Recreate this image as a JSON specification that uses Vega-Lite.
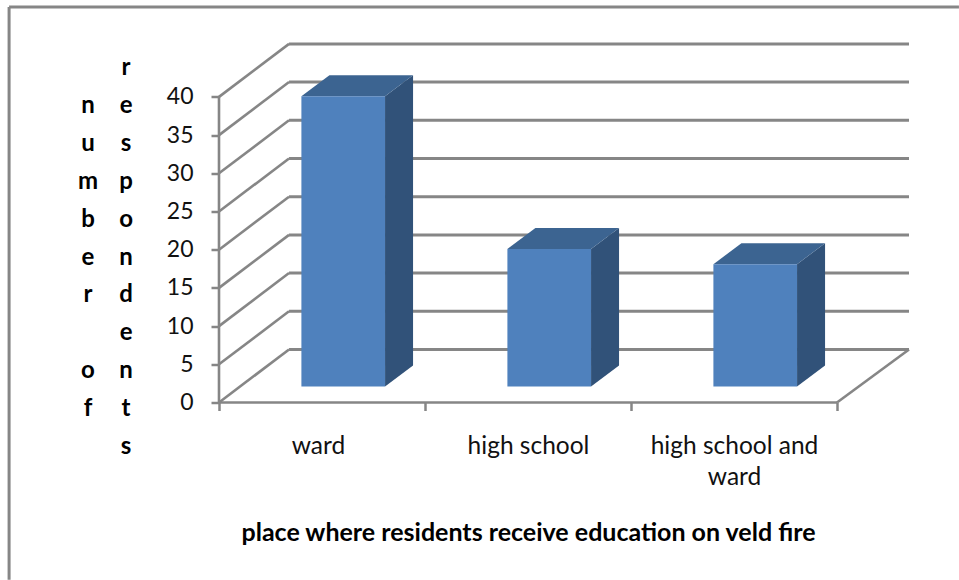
{
  "$schema": "https://vega.github.io/schema/vega-lite/v6.json",
  "width": 690,
  "height": 359,
  "autosize": {"type": "none"},
  "padding": {"left": 219, "top": 43.5, "right": 50, "bottom": 177.5},
  "background": "#ffffff",
  "config": {"view": {"stroke": null}, "font": "Lato"},
  "datasets": {
    "frame": [
      {"x": -1.019, "x2": 3.592, "y": 51.77, "y2": 51.77},
      {"x": -1.019, "x2": -1.019, "y": 51.77, "y2": -23.2}
    ],
    "walls": [
      {"x": 0.34, "x2": 3.3495, "y": 6.94, "y2": 6.94},
      {"x": 0.34, "x2": 3.3495, "y": 11.94, "y2": 11.94},
      {"x": 0.34, "x2": 3.3495, "y": 16.94, "y2": 16.94},
      {"x": 0.34, "x2": 3.3495, "y": 21.94, "y2": 21.94},
      {"x": 0.34, "x2": 3.3495, "y": 26.94, "y2": 26.94},
      {"x": 0.34, "x2": 3.3495, "y": 31.94, "y2": 31.94},
      {"x": 0.34, "x2": 3.3495, "y": 36.94, "y2": 36.94},
      {"x": 0.34, "x2": 3.3495, "y": 41.94, "y2": 41.94},
      {"x": 0.34, "x2": 3.3495, "y": 46.94, "y2": 46.94}
    ],
    "diagonals": [
      {"x": 0, "x2": 0.34, "y": 0, "y2": 6.94},
      {"x": 0, "x2": 0.34, "y": 5, "y2": 11.94},
      {"x": 0, "x2": 0.34, "y": 10, "y2": 16.94},
      {"x": 0, "x2": 0.34, "y": 15, "y2": 21.94},
      {"x": 0, "x2": 0.34, "y": 20, "y2": 26.94},
      {"x": 0, "x2": 0.34, "y": 25, "y2": 31.94},
      {"x": 0, "x2": 0.34, "y": 30, "y2": 36.94},
      {"x": 0, "x2": 0.34, "y": 35, "y2": 41.94},
      {"x": 0, "x2": 0.34, "y": 40, "y2": 46.94},
      {"x": 3, "x2": 3.3495, "y": 0, "y2": 6.94},
      {"x": 0, "x2": 0, "y": 0, "y2": 40},
      {"x": 0, "x2": 3, "y": 0, "y2": 0}
    ],
    "front": [
      {"place": "ward", "value": 38, "x": 0.40, "x2": 0.806, "low": 2.1, "high": 40.1},
      {"place": "high school", "value": 18, "x": 1.40, "x2": 1.806, "low": 2.1, "high": 20.1},
      {"place": "high school and ward", "value": 16, "x": 2.40, "x2": 2.806, "low": 2.1, "high": 18.1}
    ],
    "side": [
      {"place": "ward", "x": 0.806, "low": 2.1, "high": 40.1},
      {"place": "ward", "x": 0.942, "low": 4.85, "high": 42.85},
      {"place": "high school", "x": 1.806, "low": 2.1, "high": 20.1},
      {"place": "high school", "x": 1.942, "low": 4.85, "high": 22.85},
      {"place": "high school and ward", "x": 2.806, "low": 2.1, "high": 18.1},
      {"place": "high school and ward", "x": 2.942, "low": 4.85, "high": 20.85}
    ],
    "top": [
      {"place": "ward", "x": 0.40, "low": 40.1, "high": 40.1},
      {"place": "ward", "x": 0.536, "low": 40.1, "high": 42.85},
      {"place": "ward", "x": 0.806, "low": 40.1, "high": 42.85},
      {"place": "ward", "x": 0.942, "low": 42.85, "high": 42.85},
      {"place": "high school", "x": 1.40, "low": 20.1, "high": 20.1},
      {"place": "high school", "x": 1.536, "low": 20.1, "high": 22.85},
      {"place": "high school", "x": 1.806, "low": 20.1, "high": 22.85},
      {"place": "high school", "x": 1.942, "low": 22.85, "high": 22.85},
      {"place": "high school and ward", "x": 2.40, "low": 18.1, "high": 18.1},
      {"place": "high school and ward", "x": 2.536, "low": 18.1, "high": 20.85},
      {"place": "high school and ward", "x": 2.806, "low": 18.1, "high": 20.85},
      {"place": "high school and ward", "x": 2.942, "low": 20.85, "high": 20.85}
    ],
    "letters": [
      {"t": "n", "x": -0.636, "y": 37.91},
      {"t": "u", "x": -0.636, "y": 32.95},
      {"t": "m", "x": -0.636, "y": 27.98},
      {"t": "b", "x": -0.636, "y": 23.02},
      {"t": "e", "x": -0.636, "y": 18.06},
      {"t": "r", "x": -0.636, "y": 13.10},
      {"t": "o", "x": -0.636, "y": 3.18},
      {"t": "f", "x": -0.636, "y": -1.78},
      {"t": "r", "x": -0.451, "y": 42.87},
      {"t": "e", "x": -0.451, "y": 37.91},
      {"t": "s", "x": -0.451, "y": 32.95},
      {"t": "p", "x": -0.451, "y": 27.98},
      {"t": "o", "x": -0.451, "y": 23.02},
      {"t": "n", "x": -0.451, "y": 18.06},
      {"t": "d", "x": -0.451, "y": 13.10},
      {"t": "e", "x": -0.451, "y": 8.14},
      {"t": "n", "x": -0.451, "y": 3.18},
      {"t": "t", "x": -0.451, "y": -1.78},
      {"t": "s", "x": -0.451, "y": -6.75}
    ]
  },
  "layer": [
    {
      "data": {"name": "frame"},
      "mark": {"type": "rule", "stroke": "#868686", "strokeWidth": 3},
      "encoding": {
        "x": {
          "field": "x",
          "type": "quantitative",
          "scale": {"domain": [0, 3.3495], "nice": false, "zero": false},
          "axis": {
            "values": [0, 0.48, 1, 1.5, 2, 2.5, 3],
            "grid": false,
            "domain": false,
            "tickColor": "#868686",
            "tickWidth": 2.5,
            "tickSize": 8,
            "tickOpacity": {"condition": {"test": "datum.value % 1 !== 0", "value": 0}, "value": 1},
            "labelExpr": "datum.value === 0.48 ? 'ward' : datum.value === 1.5 ? 'high school' : datum.value === 2.5 ? ['high school and', 'ward'] : ''",
            "labelFont": "Lato",
            "labelFontSize": 24.5,
            "labelColor": "#111111",
            "labelPadding": 24,
            "labelLineHeight": 31,
            "labelOverlap": false,
            "labelBound": false,
            "labelFlush": false,
            "title": "place where residents receive education on veld fire",
            "titleFont": "Lato",
            "titleFontSize": 25,
            "titleFontWeight": "bold",
            "titleColor": "#000000",
            "titleX": 309,
            "titleY": 118
          }
        },
        "x2": {"field": "x2"},
        "y": {
          "field": "y",
          "type": "quantitative",
          "scale": {"domain": [0, 46.99], "nice": false, "zero": false},
          "axis": {
            "values": [0, 5, 10, 15, 20, 25, 30, 35, 40],
            "grid": false,
            "domain": false,
            "tickColor": "#868686",
            "tickWidth": 2.5,
            "tickSize": 8,
            "labelFont": "Lato",
            "labelFontSize": 23,
            "labelColor": "#111111",
            "labelPadding": 18,
            "title": null
          }
        },
        "y2": {"field": "y2"}
      }
    },
    {
      "data": {"name": "walls"},
      "mark": {"type": "rule", "stroke": "#868686", "strokeWidth": 3},
      "encoding": {
        "x": {"field": "x", "type": "quantitative"},
        "x2": {"field": "x2"},
        "y": {"field": "y", "type": "quantitative"},
        "y2": {"field": "y2"}
      }
    },
    {
      "data": {"name": "diagonals"},
      "mark": {"type": "rule", "stroke": "#868686", "strokeWidth": 2.6},
      "encoding": {
        "x": {"field": "x", "type": "quantitative"},
        "x2": {"field": "x2"},
        "y": {"field": "y", "type": "quantitative"},
        "y2": {"field": "y2"}
      }
    },
    {
      "data": {"name": "side"},
      "mark": {"type": "area", "color": "#315279", "interpolate": "linear"},
      "encoding": {
        "x": {"field": "x", "type": "quantitative"},
        "y": {"field": "low", "type": "quantitative"},
        "y2": {"field": "high"},
        "detail": {"field": "place"}
      }
    },
    {
      "data": {"name": "top"},
      "mark": {"type": "area", "color": "#3c6491", "interpolate": "linear"},
      "encoding": {
        "x": {"field": "x", "type": "quantitative"},
        "y": {"field": "low", "type": "quantitative"},
        "y2": {"field": "high"},
        "detail": {"field": "place"}
      }
    },
    {
      "data": {"name": "front"},
      "mark": {"type": "rect", "color": "#4f81bd"},
      "encoding": {
        "x": {"field": "x", "type": "quantitative"},
        "x2": {"field": "x2"},
        "y": {"field": "low", "type": "quantitative"},
        "y2": {"field": "high"}
      }
    },
    {
      "data": {"name": "letters"},
      "mark": {"type": "text", "font": "Lato", "fontSize": 24, "fontWeight": "bold", "color": "#000000", "align": "center", "baseline": "alphabetic"},
      "encoding": {
        "x": {"field": "x", "type": "quantitative"},
        "y": {"field": "y", "type": "quantitative"},
        "text": {"field": "t"}
      }
    }
  ]
}
